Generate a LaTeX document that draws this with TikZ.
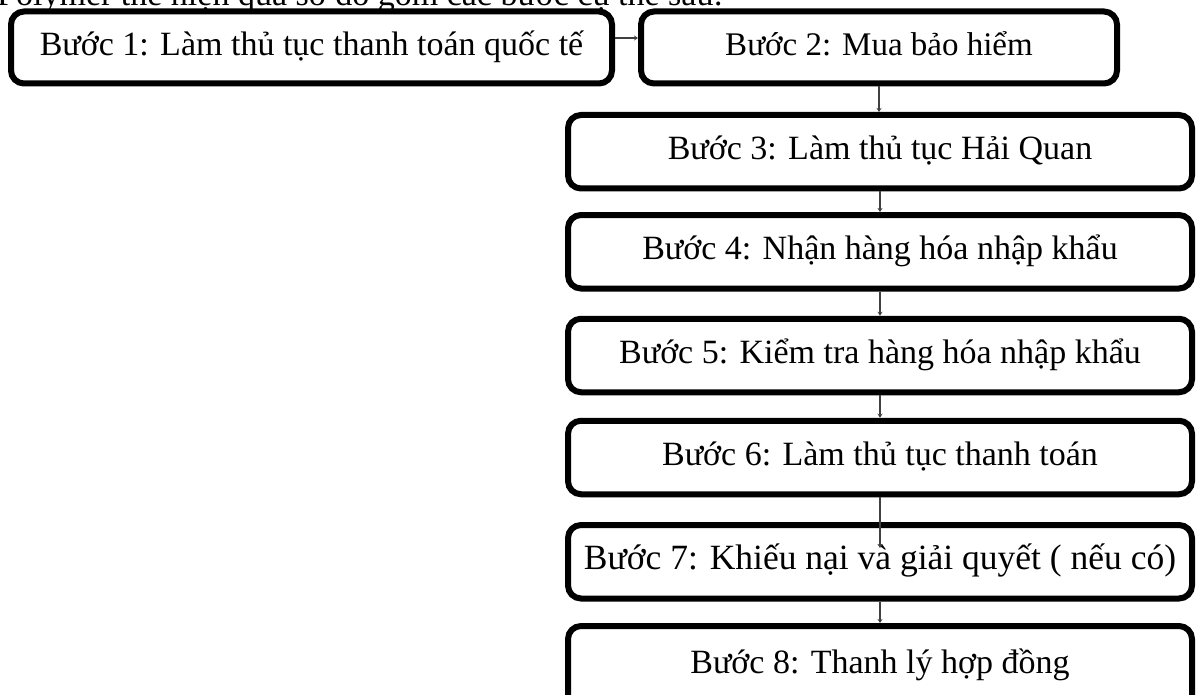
\documentclass[tikz,border=0pt]{standalone}
\usepackage{fontspec}
\setmainfont{Liberation Serif}
\usetikzlibrary{arrows.meta}
\tikzset{
  stepbox/.style={draw=black, line width=6pt, rounded corners=13pt, fill=white,
    inner sep=0pt, text height=23pt, text depth=7pt, font=\fontsize{34}{40}\selectfont},
  wide/.style={minimum width=624pt, minimum height=73.5pt},
  link/.style={draw=black!75, line width=2.5pt, -{Stealth[length=4pt,width=5pt]}}
}
\begin{document}
\begin{tikzpicture}[x=1pt,y=-1pt]
\useasboundingbox (0,0) rectangle (1201,695);
\clip (0,0) rectangle (1201,695);
\node[anchor=base west, inner sep=0pt, font=\fontsize{34}{40}\selectfont] (intro) at (-3,6) {Polymer thể hiện qua sơ đồ gồm các bước cụ thể sau:};
\node[stepbox, minimum width=601pt, minimum height=72pt] (b1) at (311.5,47.5) {Bước 1: Làm thủ tục thanh toán quốc tế};
\node[stepbox, minimum width=476pt, minimum height=72pt, font=\fontsize{33}{40}\selectfont] (b2) at (879,47.5) {Bước 2: Mua bảo hiểm};
\node[stepbox, wide] (b3) at (880,151.75) {Bước 3: Làm thủ tục Hải Quan};
\node[stepbox, wide] (b4) at (880,251.75) {Bước 4: Nhận hàng hóa nhập khẩu};
\node[stepbox, wide] (b5) at (880,355.5) {Bước 5: Kiểm tra hàng hóa nhập khẩu};
\node[stepbox, wide] (b6) at (880,457.5) {Bước 6: Làm thủ tục thanh toán};
\node[stepbox, wide, font=\fontsize{35.5}{40}\selectfont] (b7) at (880,561.75) {Bước 7: Khiếu nại và giải quyết ( nếu có)};
\node[stepbox, minimum width=624pt, minimum height=86pt] (b8) at (880,669) {\raisebox{4pt}{Bước 8: Thanh lý hợp đồng}};
\draw[link] ([yshift=9.5pt]b1.east) -- ([yshift=9.5pt]b2.west);
\draw[link] (b2.south) -- (b2.south |- b3.north);
\draw[link] (b3.south) -- (b4.north);
\draw[link] (b4.south) -- (b5.north);
\draw[link] (b5.south) -- (b6.north);
\draw[link] (b6.south) -- ([yshift=-26pt]b7.north);
\draw[link] (b7.south) -- (b8.north);
\end{tikzpicture}
\end{document}
